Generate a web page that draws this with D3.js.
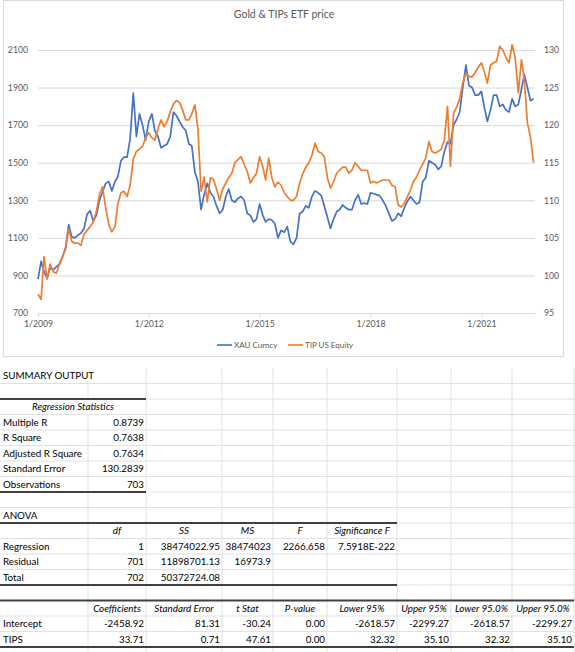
<!DOCTYPE html>
<html>
<head>
<meta charset="utf-8">
<title>Gold & TIPs ETF price</title>
<script src="https://cdn.jsdelivr.net/npm/d3@7"></script>
<style>
  body { margin: 0; background: #fff; }
  svg { display: block; font-family: Lato, 'Open Sans', sans-serif; }
</style>
</head>
<body>
<svg width="575" height="652" id="mainsvg"></svg>
<script>
// monthly readings, Jan 2009 .. Jun 2022
const xauCurncy = [
  880, 975, 920, 885, 940, 930, 945, 960, 1000, 1050, 1170, 1105,
  1100, 1115, 1125, 1150, 1225, 1245, 1190, 1220, 1300, 1345, 1390, 1400,
  1350, 1400, 1425, 1510, 1530, 1530, 1630, 1870, 1640, 1760, 1700, 1620,
  1720, 1760, 1670, 1640, 1580, 1590, 1600, 1640, 1770, 1750, 1720, 1690,
  1670, 1600, 1590, 1450, 1400, 1250, 1330, 1390, 1340, 1320, 1270, 1230,
  1250, 1320, 1360, 1300, 1290, 1310, 1320, 1300, 1230, 1220, 1185, 1200,
  1280, 1220, 1185, 1200, 1195, 1175, 1100, 1140, 1130, 1160, 1080, 1065,
  1100, 1230, 1240, 1270, 1260, 1320, 1350, 1340, 1325, 1270, 1210, 1150,
  1200, 1240, 1250, 1275, 1260, 1250, 1250, 1300, 1330, 1280, 1285, 1280,
  1340, 1335, 1330, 1325, 1300, 1270, 1230, 1190, 1200, 1230, 1215, 1260,
  1295, 1320, 1300, 1280, 1290, 1400, 1420, 1510, 1500, 1490, 1465, 1480,
  1560, 1610, 1600, 1700, 1730, 1770, 1900, 2020, 1910, 1900, 1860, 1860,
  1880, 1790, 1720, 1780, 1860, 1860, 1800, 1810, 1780, 1770, 1840, 1800,
  1810, 1890, 1970, 1900, 1830, 1840
];
const tipUsEquity = [
  97.5, 96.8, 102.5, 99.5, 101.5, 100.5, 100.3, 101.5, 102.5, 103.5, 106.2, 104.5,
  104.3, 104.3, 104, 105.5, 106, 106.5, 107.1, 108.5, 110.8, 111.8, 109, 106.8,
  105.8, 106.5, 109.5, 111, 111.2, 110.5, 112, 115.5, 116.5, 116.8, 117.2, 118.3,
  119, 118.3, 118, 119.5, 120.7, 119.8, 120.5, 121.8, 122.8, 123.3, 123, 122,
  120.7, 120.7, 121.5, 122.7, 119.5, 111.2, 113.1, 109.8, 113, 112.8, 111.5, 110,
  111.5, 112.3, 113, 113.6, 115, 115.4, 115.8, 114.8, 113.8, 112.3, 113, 113.6,
  115.8, 114.5, 112.7, 115.6, 113, 111.8, 112.4, 112, 111, 110.5, 110, 110,
  110.5, 112.3, 113.5, 114.4, 115, 116, 117.6, 116.5, 116.3, 115.8, 113, 111.6,
  112.5, 113.6, 114, 114.4, 114.4, 113.6, 114, 115, 114.5, 114, 114, 114,
  112.3, 112.5, 112.3, 112.5, 112.7, 112.7, 112.7, 112, 111.8, 109.4, 109.1, 109.6,
  110.5, 111.4, 112.5, 113.1, 114, 114.8, 115.6, 117.8, 116.5, 116.3, 116.5, 116.8,
  118, 122.5, 114.5, 121.6, 122.4, 123.5, 125.6, 126.9, 126.5, 126.4, 127, 127.7,
  128.3, 127, 125.6, 128, 128.3, 128.5, 130.5, 130, 129, 128.3, 130.7, 129,
  124.3, 128.7, 126, 120.3, 118.4, 115
];
const months = d3.timeMonth.range(new Date(2009, 0, 1), new Date(2022, 6, 1));
const leftTicks = [700, 900, 1100, 1300, 1500, 1700, 1900, 2100];
const rightTicks = [95, 100, 105, 110, 115, 120, 125, 130];
const dateTicks = [2009, 2012, 2015, 2018, 2021];
const seriesNames = ['XAU Curncy', 'TIP US Equity'];

// regression output
const regStatLabels = ['Multiple R', 'R Square', 'Adjusted R Square', 'Standard Error', 'Observations'];
const regStatValues = ['0.8739', '0.7638', '0.7634', '130.2839', '703'];
const anovaHeaders = ['df', 'SS', 'MS', 'F', 'Significance F'];
const anovaRows = [
  ['Regression', '1', '38474022.95', '38474023', '2266.658', '7.5918E-222'],
  ['Residual', '701', '11898701.13', '16973.9', '', ''],
  ['Total', '702', '50372724.08', '', '', '']
];
const coefHeaders = ['Coefficients', 'Standard Error', 't Stat', 'P-value', 'Lower 95%', 'Upper 95%', 'Lower 95.0%', 'Upper 95.0%'];
const coefRows = [
  ['Intercept', '-2458.92', '81.31', '-30.24', '0.00', '-2618.57', '-2299.27', '-2618.57', '-2299.27'],
  ['TIPS', '33.71', '0.71', '47.61', '0.00', '32.32', '35.10', '32.32', '35.10']
];

const svg = d3.select('#mainsvg');
const blue = '#4472C4', orange = '#ED7D31', grey = '#595959';

// ---------- chart ----------
const chart = svg.append('g');
chart.append('rect')
  .attr('x', 3.5).attr('y', 0.5).attr('width', 560).attr('height', 356)
  .attr('fill', '#fff').attr('stroke', '#d9d9d9');

chart.append('text')
  .attr('x', 284).attr('y', 18)
  .attr('text-anchor', 'middle')
  .attr('fill', grey)
  .attr('font-size', 10.5)
  .text('Gold & TIPs ETF price');

const xScale = d3.scaleTime()
  .domain([new Date(2009, 0, 1), new Date(2022, 5, 15)])
  .range([38, 535]);
const yLeft = d3.scaleLinear().domain([700, 2100]).range([313, 50]);
const yRight = d3.scaleLinear().domain([95, 130]).range([313, 50]);

const leftAxis = chart.append('g')
  .attr('transform', `translate(${xScale.range()[0]},0)`)
  .call(d3.axisLeft(yLeft).tickValues(leftTicks).tickFormat(d3.format('d'))
    .tickSize(-(xScale.range()[1] - xScale.range()[0])).tickPadding(10));
leftAxis.select('.domain').remove();
leftAxis.selectAll('.tick line').attr('stroke', '#d9d9d9');

const rightAxis = chart.append('g')
  .attr('transform', `translate(${xScale.range()[1]},0)`)
  .call(d3.axisRight(yRight).tickValues(rightTicks).tickSize(0).tickPadding(9));
rightAxis.select('.domain').remove();

const bottomAxis = chart.append('g')
  .attr('transform', `translate(0,${yLeft(700)})`)
  .call(d3.axisBottom(xScale)
    .tickValues(dateTicks.map(y => new Date(y, 0, 1)))
    .tickFormat(d => `1/${d.getFullYear()}`)
    .tickSizeInner(4).tickSizeOuter(0).tickPadding(4));
bottomAxis.select('.domain').attr('stroke', '#d9d9d9');
bottomAxis.selectAll('.tick line').attr('stroke', '#d9d9d9');

chart.selectAll('.tick text')
  .attr('fill', grey)
  .attr('font-size', 8.7)
  .attr('font-family', 'Lato, sans-serif');

const lineLeft = d3.line().x((d, i) => xScale(months[i])).y(d => yLeft(d));
const lineRight = d3.line().x((d, i) => xScale(months[i])).y(d => yRight(d));

chart.append('path')
  .attr('d', lineLeft(xauCurncy))
  .attr('fill', 'none').attr('stroke', blue).attr('stroke-width', 1.7)
  .attr('stroke-linejoin', 'round');
chart.append('path')
  .attr('d', lineRight(tipUsEquity))
  .attr('fill', 'none').attr('stroke', orange).attr('stroke-width', 1.7)
  .attr('stroke-linejoin', 'round');

// legend
const legendX = [217, 288];
const legendColors = [blue, orange];
seriesNames.forEach((name, i) => {
  const g = chart.append('g').attr('transform', `translate(${legendX[i]},345)`);
  g.append('line').attr('x1', 0).attr('x2', 15).attr('stroke', legendColors[i]).attr('stroke-width', 1.6);
  g.append('text').attr('x', 17).attr('y', 3).attr('font-size', 8).attr('fill', grey).text(name);
});

// ---------- spreadsheet ----------
const colX = [0, 88, 146, 222, 273, 327, 397, 451, 512, 574];
const rowY = d3.scaleLinear().domain([0, 1]).range([368, 383.5]);
const sheet = svg.append('g').attr('font-size', 9.8).attr('fill', '#000');

// light grid
for (let r = 1; r <= 18; r++) {
  sheet.append('line')
    .attr('x1', 0).attr('x2', 575)
    .attr('y1', rowY(r)).attr('y2', rowY(r))
    .attr('stroke', '#e1e1e1');
}
for (let c = 1; c < colX.length; c++) {
  for (let r = 0; r <= 18; r++) {
    if (c === 1 && (r === 0 || r === 2)) continue; // text spills over
    sheet.append('line')
      .attr('x1', colX[c]).attr('x2', colX[c])
      .attr('y1', rowY(r)).attr('y2', Math.min(rowY(r + 1), 652))
      .attr('stroke', '#e1e1e1');
  }
}

const cell = function(r, c, text, align, italic, span) {
  const x0 = colX[c], x1 = colX[c + (span || 1)];
  let x = x0 + 3, anchor = 'start';
  if (align === 'right') { x = x1 - 2; anchor = 'end'; }
  if (align === 'center') { x = (x0 + x1) / 2; anchor = 'middle'; }
  sheet.append('text')
    .attr('x', x).attr('y', rowY(r) + 11.4)
    .attr('text-anchor', anchor)
    .attr('font-style', italic ? 'italic' : 'normal')
    .text(text);
};

cell(0, 0, 'SUMMARY OUTPUT', 'left');
cell(2, 0, 'Regression Statistics', 'center', true, 2);
regStatLabels.forEach((d, i) => {
  cell(3 + i, 0, d, 'left');
  cell(3 + i, 1, regStatValues[i], 'right');
});

cell(9, 0, 'ANOVA', 'left');
anovaHeaders.forEach((d, i) => cell(10, i + 1, d, 'center', true));
anovaRows.forEach((row, r) => {
  row.forEach((d, c) => cell(11 + r, c, d, c === 0 ? 'left' : 'right'));
});

coefHeaders.forEach((d, i) => cell(15, i + 1, d, 'center', true));
coefRows.forEach((row, r) => {
  row.forEach((d, c) => cell(16 + r, c, d, c === 0 ? 'left' : 'right'));
});

// heavy borders
const borders = [[2, 2], [8, 2], [10, 6], [14, 6], [15, 9], [18, 9]];
borders.forEach(([r, c]) => {
  sheet.append('line')
    .attr('x1', 0).attr('x2', colX[c])
    .attr('y1', rowY(r)).attr('y2', rowY(r))
    .attr('stroke', '#404040').attr('stroke-width', 2);
});
</script>
</body>
</html>
